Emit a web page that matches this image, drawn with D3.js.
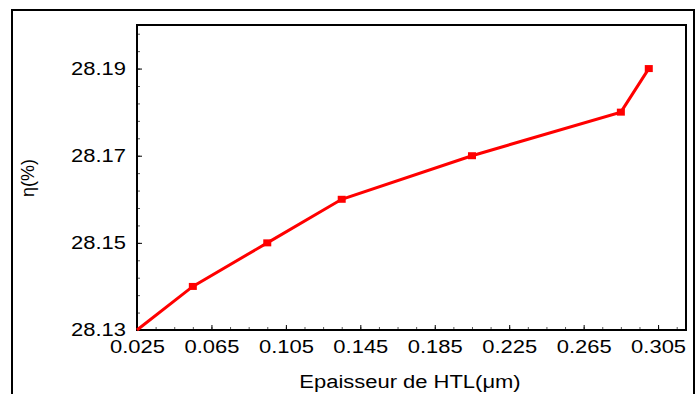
<!DOCTYPE html>
<html>
<head>
<meta charset="utf-8">
<script src="https://cdn.jsdelivr.net/npm/d3@7"></script>
<style>
  body { margin: 0; background: #fff; }
  svg { display: block; font-family: "Liberation Sans", Arial, sans-serif; }
</style>
</head>
<body>
<div id="container"></div>
<script>
// Data
const thickness = [0.025, 0.055, 0.095, 0.135, 0.205, 0.285, 0.300];
const efficiency = [28.13, 28.14, 28.15, 28.16, 28.17, 28.18, 28.19];
const xTickValues = [0.025, 0.065, 0.105, 0.145, 0.185, 0.225, 0.265, 0.305];
const yTickValues = [28.13, 28.15, 28.17, 28.19];

const width = 696;
const height = 394;
const marginLeft = 137;
const marginTop = 25;
const plotRight = 686;
const plotBottom = 330;
const stretch = 1.22; // the reference text is a bit wide

const data = thickness.map((t, i) => ({ x: t, y: efficiency[i] }));

const svg = d3.create("svg").attr("width", width).attr("height", height);

// outer frame
svg.append("rect")
  .attr("x", 12).attr("y", 10)
  .attr("width", 682).attr("height", 400)
  .attr("fill", "none")
  .attr("stroke", "#000")
  .attr("stroke-width", 2);

const x = d3.scaleLinear().domain([0.025, 0.32]).range([marginLeft, plotRight]);
const y = d3.scaleLinear().domain([28.13, 28.20]).range([plotBottom, marginTop]);

// minor ticks
const xMinor = d3.range(0, 30).map(i => 0.025 + i * 0.01).filter(v => v <= 0.32);
const yMinor = d3.range(0, 18).map(i => 28.13 + i * 0.004).filter(v => v <= 28.2);

svg.append("g")
  .attr("transform", `translate(0,${plotBottom})`)
  .call(d3.axisBottom(x).tickValues(xMinor).tickSize(-3).tickFormat(""))
  .call(g => g.select(".domain").remove())
  .selectAll("line").attr("stroke", "#555");

svg.append("g")
  .attr("transform", `translate(${marginLeft},0)`)
  .call(d3.axisLeft(y).tickValues(yMinor).tickSize(-3).tickFormat(""))
  .call(g => g.select(".domain").remove())
  .selectAll("line").attr("stroke", "#555");

// major ticks with labels
const xAxis = svg.append("g")
  .attr("transform", `translate(0,${plotBottom})`)
  .call(d3.axisBottom(x).tickValues(xTickValues).tickSizeInner(-5).tickSizeOuter(0)
    .tickPadding(10).tickFormat(d3.format(".3f")))
  .call(g => g.select(".domain").remove());
xAxis.selectAll("text")
  .attr("font-size", 18).attr("font-family", "Liberation Sans, Arial, sans-serif")
  .attr("fill", "#000");

const yAxis = svg.append("g")
  .attr("transform", `translate(${marginLeft},0)`)
  .call(d3.axisLeft(y).tickValues(yTickValues).tickSizeInner(-5).tickSizeOuter(0)
    .tickPadding(11).tickFormat(d3.format(".2f")))
  .call(g => g.select(".domain").remove());
yAxis.selectAll("text")
  .attr("font-size", 18).attr("font-family", "Liberation Sans, Arial, sans-serif")
  .attr("fill", "#000");

// plot frame
svg.append("rect")
  .attr("x", marginLeft).attr("y", marginTop)
  .attr("width", plotRight - marginLeft).attr("height", plotBottom - marginTop)
  .attr("fill", "none")
  .attr("stroke", "#000")
  .attr("stroke-width", 2);

// line
const line = d3.line().x(d => x(d.x)).y(d => y(d.y));
svg.append("path")
  .datum(data)
  .attr("fill", "none")
  .attr("stroke", "#ff0000")
  .attr("stroke-width", 3)
  .attr("d", line);

// square markers
svg.append("g")
  .selectAll("rect")
  .data(data.slice(1))
  .join("rect")
  .attr("x", d => x(d.x) - 4)
  .attr("y", d => y(d.y) - 3.5)
  .attr("width", 8)
  .attr("height", 7)
  .attr("fill", "#ff0000");

// axis titles
svg.append("text")
  .attr("class", "xlabel")
  .attr("x", 410)
  .attr("y", 388)
  .attr("text-anchor", "middle")
  .attr("font-size", 18)
  .text("Epaisseur de HTL(μm)");

svg.append("text")
  .attr("transform", "translate(34,178) rotate(-90)")
  .attr("text-anchor", "middle")
  .attr("font-size", 18)
  .text("η(%)");

document.getElementById("container").append(svg.node());

// widen horizontal text to match the reference
svg.selectAll(".tick text, text.xlabel").each(function () {
  const w = this.getComputedTextLength();
  d3.select(this).attr("textLength", w * stretch).attr("lengthAdjust", "spacingAndGlyphs");
});
</script>
</body>
</html>
